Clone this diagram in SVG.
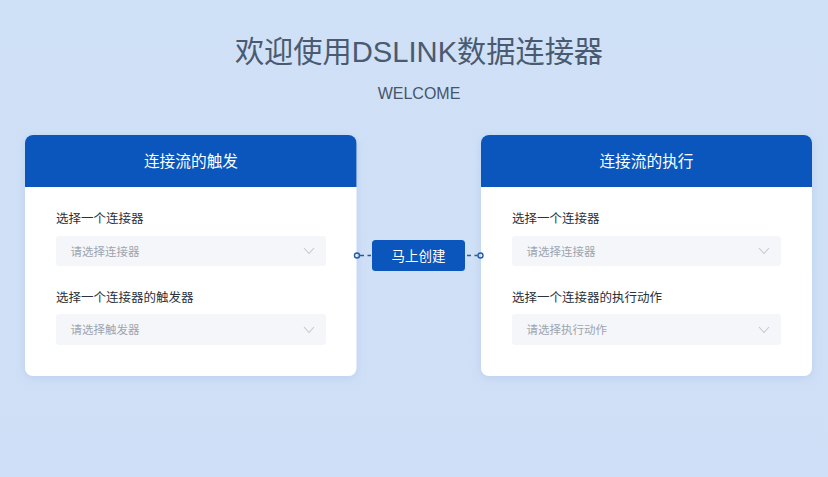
<svg xmlns="http://www.w3.org/2000/svg" width="828" height="477" viewBox="0 0 828 477">
<defs>
<linearGradient id="bg" x1="0" y1="0" x2="0" y2="1"><stop offset="0" stop-color="#cfe1f6"/><stop offset="1" stop-color="#cfdff7"/></linearGradient>
<filter id="sh" x="-10%" y="-10%" width="120%" height="120%"><feDropShadow dx="0" dy="2" stdDeviation="5" flood-color="#7f9fd8" flood-opacity="0.25"/></filter>
<path id="chev" d="M0 0L5 5.500L10 0" fill="none" stroke="#c3c8d0" stroke-width="1.100"/>
</defs>
<style>
text{font-family:"Liberation Sans","Noto Sans CJK SC",sans-serif}
.cjk{font-family:"Noto Sans CJK SC","Liberation Sans",sans-serif}
.head{font-size:15.700px;fill:#fff;text-anchor:middle}
.lab{font-size:12.500px;fill:#2b3138}
.ph{font-size:11.500px;fill:#9fa5ae}
.sel{fill:#f4f6f9}
.hdr{fill:#0a56bc}
.conn{fill:none;stroke:#1f5da8;stroke-width:1.400}
.dash{stroke-dasharray:4 3.500}
</style>
<rect width="828" height="477" fill="url(#bg)"/>
<g id="title">
<text x="419" y="62" font-size="29.200" fill="#4a5a70" text-anchor="middle">欢迎使用DSLINK数据连接器</text>
<text x="419" y="99" font-size="16" fill="#45556b" text-anchor="middle">WELCOME</text>
</g>
<g id="card-trigger">
<rect x="25" y="135" width="331.500" height="241" rx="8" fill="#fff" filter="url(#sh)"/>
<path class="hdr" d="M25 187V143a8 8 0 0 1 8-8H348.500a8 8 0 0 1 8 8V187Z"/>
<text class="head cjk" x="191" y="167">连接流的触发</text>
<text class="lab cjk" x="56" y="223">选择一个连接器</text>
<rect class="sel" x="56" y="236" width="270" height="30" rx="3"/>
<text class="ph cjk" x="70.500" y="255.500">请选择连接器</text>
<use href="#chev" x="304" y="248"/>
<text class="lab cjk" x="56" y="302">选择一个连接器的触发器</text>
<rect class="sel" x="56" y="314" width="270" height="31" rx="3"/>
<text class="ph cjk" x="70.500" y="334">请选择触发器</text>
<use href="#chev" x="304" y="327"/>
</g>
<g id="button">
<rect x="372" y="240" width="93" height="31" rx="3.500" fill="#0a56bc"/>
<text class="cjk" x="418.500" y="260.500" font-size="13.500" fill="#fff" text-anchor="middle">马上创建</text>
</g>
<g id="card-action">
<rect x="481" y="135" width="331" height="241" rx="8" fill="#fff" filter="url(#sh)"/>
<path class="hdr" d="M481 187V143a8 8 0 0 1 8-8H804a8 8 0 0 1 8 8V187Z"/>
<text class="head cjk" x="646.500" y="167">连接流的执行</text>
<text class="lab cjk" x="512" y="223">选择一个连接器</text>
<rect class="sel" x="512" y="236" width="269" height="30" rx="3"/>
<text class="ph cjk" x="526.500" y="255.500">请选择连接器</text>
<use href="#chev" x="759" y="248"/>
<text class="lab cjk" x="512" y="302">选择一个连接器的执行动作</text>
<rect class="sel" x="512" y="314" width="269" height="31" rx="3"/>
<text class="ph cjk" x="526.500" y="334">请选择执行动作</text>
<use href="#chev" x="759" y="327"/>
</g>
<g id="connectors">
<path class="conn dash" d="M360 255.500H371"/>
<circle class="conn" cx="357" cy="255.500" r="2.500" fill="none"/>
<path class="conn dash" d="M467 255.500H477.500"/>
<circle class="conn" cx="480.500" cy="255.500" r="2.500" fill="none"/>
</g>
</svg>
